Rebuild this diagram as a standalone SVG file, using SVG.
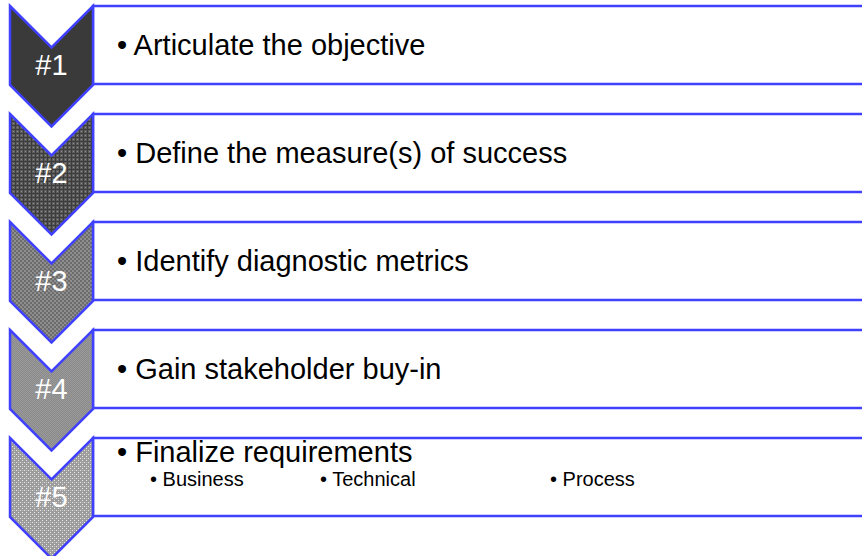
<svg xmlns="http://www.w3.org/2000/svg" width="862" height="556" viewBox="0 0 862 556">
  <defs>
    <!-- halftone textures for the step chevrons -->
    <pattern id="tex2" width="4" height="4" patternUnits="userSpaceOnUse">
      <rect width="4" height="4" fill="#3c3c3c"/>
      <rect x="0" y="0" width="3" height="3" fill="#5e5e5e"/>
      <rect x="1" y="1" width="1" height="1" fill="#8a8a8a"/>
    </pattern>
    <pattern id="tex3" width="4" height="4" patternUnits="userSpaceOnUse">
      <rect width="4" height="4" fill="#6c6c6c"/>
      <rect x="0" y="0" width="2" height="2" fill="#8e8e8e"/>
      <rect x="2" y="2" width="2" height="2" fill="#8e8e8e"/>
    </pattern>
    <pattern id="tex4" width="2" height="2" patternUnits="userSpaceOnUse">
      <rect width="2" height="2" fill="#8a8a8a"/>
      <rect x="0" y="0" width="1" height="1" fill="#9a9a9a"/>
      <rect x="1" y="1" width="1" height="1" fill="#9a9a9a"/>
    </pattern>
    <pattern id="tex5" width="4" height="4" patternUnits="userSpaceOnUse">
      <rect width="4" height="4" fill="#9c9c9c"/>
      <rect x="0" y="0" width="1" height="1" fill="#e6e6e6"/>
      <rect x="2" y="2" width="1" height="1" fill="#e6e6e6"/>
      <rect x="2" y="0" width="1" height="1" fill="#bcbcbc"/>
    </pattern>
    <polygon id="chev" points="10,0 51.5,41.5 93,0 93,79 51.5,120.5 10,79"/>
  </defs>
  <style>
    .box { fill: #ffffff; stroke: #4040ff; stroke-width: 2.5; }
    .chev { stroke: #4040ff; stroke-width: 2.5; stroke-linejoin: miter; }
    .num { font-family: "Liberation Sans", Arial, sans-serif; font-size: 29px; fill: #ffffff; text-anchor: middle; }
    .lbl { font-family: "Liberation Sans", Arial, sans-serif; font-size: 29px; fill: #000000; }
    .sub { font-family: "Liberation Sans", Arial, sans-serif; font-size: 20px; fill: #000000; }
  </style>

  <g id="step1">
    <rect class="box" x="93" y="6" width="800" height="78"/>
    <use href="#chev" class="chev" x="0" y="6" fill="#3a3a3a"/>
    <text class="num" x="51.5" y="75">#1</text>
    <text class="lbl" x="117" y="55">• Articulate the objective</text>
  </g>

  <g id="step2">
    <rect class="box" x="93" y="114" width="800" height="78"/>
    <use href="#chev" class="chev" x="0" y="114" fill="url(#tex2)"/>
    <text class="num" x="51.5" y="183">#2</text>
    <text class="lbl" x="117" y="163">• Define the measure(s) of success</text>
  </g>

  <g id="step3">
    <rect class="box" x="93" y="222" width="800" height="78"/>
    <use href="#chev" class="chev" x="0" y="222" fill="url(#tex3)"/>
    <text class="num" x="51.5" y="291">#3</text>
    <text class="lbl" x="117" y="271">• Identify diagnostic metrics</text>
  </g>

  <g id="step4">
    <rect class="box" x="93" y="330" width="800" height="78"/>
    <use href="#chev" class="chev" x="0" y="330" fill="url(#tex4)"/>
    <text class="num" x="51.5" y="399">#4</text>
    <text class="lbl" x="117" y="379">• Gain stakeholder buy-in</text>
  </g>

  <g id="step5">
    <rect class="box" x="93" y="438" width="800" height="78"/>
    <use href="#chev" class="chev" x="0" y="438" fill="url(#tex5)"/>
    <text class="num" x="51.5" y="507">#5</text>
    <text class="lbl" x="117" y="462">• Finalize requirements</text>
    <text class="sub" x="150" y="486">• Business</text>
    <text class="sub" x="320" y="486">• Technical</text>
    <text class="sub" x="550" y="486">• Process</text>
  </g>

  <g id="connectors"></g>
</svg>
